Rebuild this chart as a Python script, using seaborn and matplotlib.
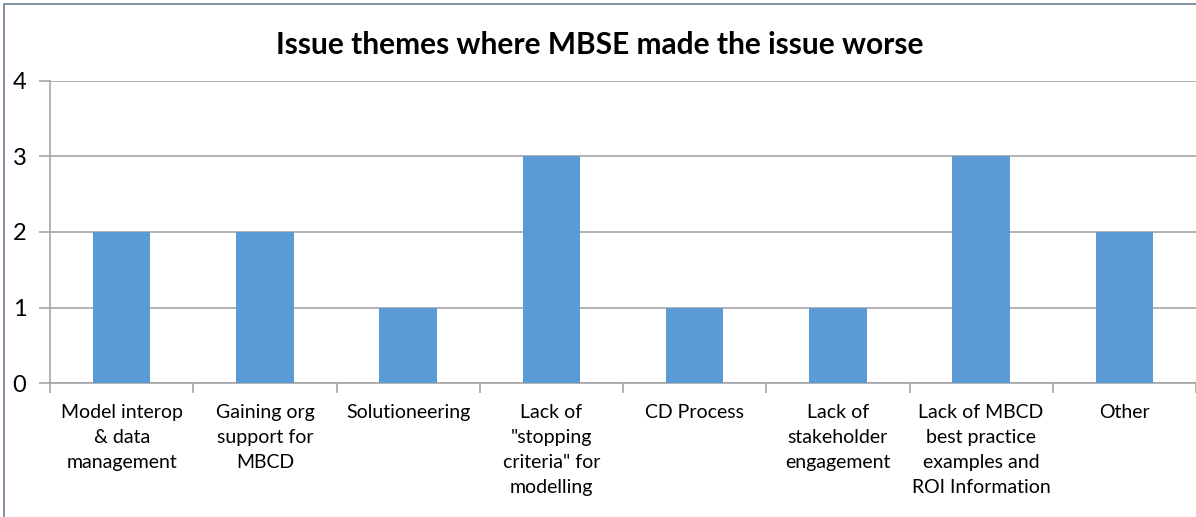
import matplotlib
matplotlib.use("Agg")
import matplotlib.pyplot as plt
import seaborn as sns
import pandas as pd

categories = [
    "Model interop\n& data\nmanagement",
    "Gaining org\nsupport for\nMBCD",
    "Solutioneering",
    "Lack of\n\"stopping\ncriteria\" for\nmodelling",
    "CD Process",
    "Lack of\nstakeholder\nengagement",
    "Lack of MBCD\nbest practice\nexamples and\nROI Information",
    "Other",
]
counts = [2, 2, 1, 3, 1, 1, 3, 2]
y_ticks = [0, 1, 2, 3, 4]
title = "Issue themes where MBSE made the issue worse"

sns.set_theme(style="white")
plt.rcParams["font.family"] = ["Lato", "DejaVu Sans"]

df = pd.DataFrame({"theme": categories, "count": counts})

fig = plt.figure(figsize=(11.96, 5.17), dpi=100)
ax = fig.add_axes([50 / 1196, 1 - 383 / 517, 1 - 50 / 1196, (383 - 81) / 517])

sns.barplot(data=df, x="theme", y="count", color="#5B9BD5", saturation=1,
            width=0.4, linewidth=0, ax=ax, zorder=3)

grid_c = "#A6A6A6"
ax.set_ylim(0, 4)
ax.set_xlim(-0.5, len(categories) - 0.5)
ax.set_yticks(y_ticks)
ax.set_yticklabels([str(v) for v in y_ticks], fontsize=17, color="#000000")
ax.yaxis.grid(True, color=grid_c, linewidth=1.2, zorder=0)
ax.tick_params(axis="y", length=8, width=1.2, color=grid_c, pad=9, left=True)

# category boundary ticks on the x axis
ax.set_xticks([i - 0.5 for i in range(len(categories) + 1)], minor=True)
ax.set_xticks(range(len(categories)))
ax.set_xticklabels(categories, fontsize=14, color="#000000", linespacing=1.58,
                   va="top")
ax.tick_params(axis="x", which="major", length=0, pad=15)
ax.tick_params(axis="x", which="minor", length=7, width=1.2, color=grid_c,
               bottom=True)

for side in ["top", "right"]:
    ax.spines[side].set_visible(False)
for side in ["left", "bottom"]:
    ax.spines[side].set_color(grid_c)
    ax.spines[side].set_linewidth(1.2)

ax.set_xlabel("")
ax.set_ylabel("")

fig.text(600 / 1196, 1 - 45 / 517, title, ha="center", va="center",
         fontsize=21.5, fontweight="bold", color="#000000")

# chart frame
frame = plt.Rectangle((4 / 1196, -0.1), 1.2, 1 - 4 / 517 + 0.1,
                      transform=fig.transFigure, fill=False,
                      edgecolor="#7A8899", linewidth=1.3)
fig.patches.append(frame)

fig.savefig("out.png", dpi=100)
